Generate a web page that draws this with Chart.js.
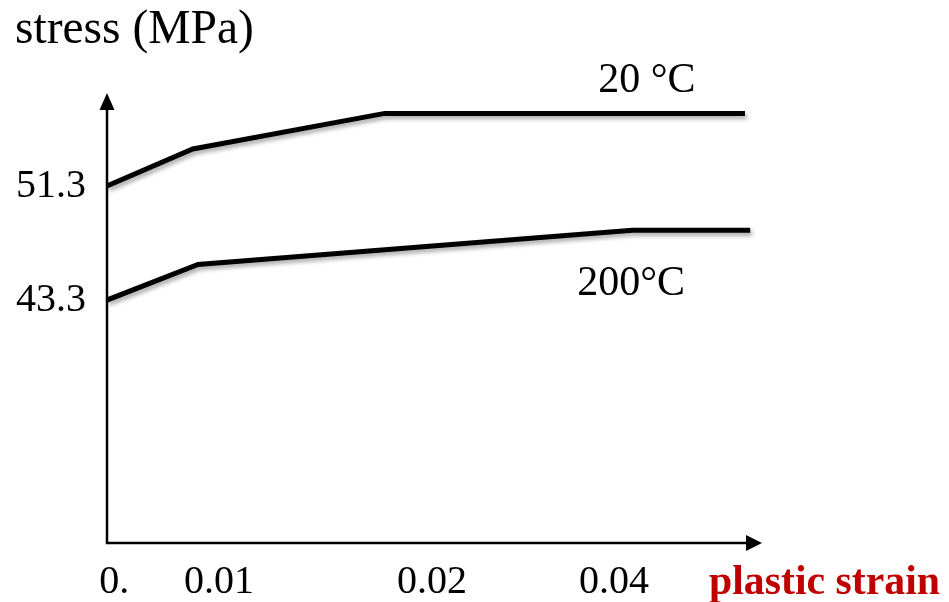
<!DOCTYPE html>
<html>
<head>
<meta charset="utf-8">
<script src="https://cdn.jsdelivr.net/npm/chart.js@4"></script>
<style>
    body { margin: 0; background: #fff; }
    canvas { display: block; }
</style>
</head>
<body>
<canvas id="chart-strain" width="949" height="602"></canvas>
<script>
// schematic strain axis: x values are positions along the (non-linear) axis, 0..100
let strainPos20 = [0, 13.1, 42.4, 97.4]
let stress20 = [51.3, 53.9, 56.4, 56.4]

let strainPos200 = [0, 13.9, 80.2, 98.2]
let stress200 = [43.3, 45.8, 48.2, 48.2]

let xTickPos = [1.1, 17.1, 49.6, 77.4]
let xTickLabels = ['0.', '0.01', '0.02', '0.04']

let yTickValues = [43.3, 51.3]
let yTickLabels = ['43.3', '51.3']

let seriesNames = ['20 °C', '200°C']

const SERIF = '"Liberation Serif", "Times New Roman", serif'

/****************************************************************************************************/

const axisArrows = {
    id: 'axisArrows',
    beforeDatasetsDraw(chart) {
        let ctx = chart.ctx
        let area = chart.chartArea
        ctx.save()
        ctx.strokeStyle = '#000'
        ctx.fillStyle = '#000'
        ctx.lineWidth = 2.5
        ctx.beginPath()
        ctx.moveTo(area.left, area.top + 10)
        ctx.lineTo(area.left, area.bottom)
        ctx.lineTo(area.right - 10, area.bottom)
        ctx.stroke()
        // arrow heads
        ctx.beginPath()
        ctx.moveTo(area.left, area.top - 2)
        ctx.lineTo(area.left - 7.5, area.top + 15)
        ctx.lineTo(area.left + 7.5, area.top + 15)
        ctx.closePath()
        ctx.fill()
        ctx.beginPath()
        ctx.moveTo(area.right, area.bottom)
        ctx.lineTo(area.right - 16, area.bottom - 8)
        ctx.lineTo(area.right - 16, area.bottom + 8)
        ctx.closePath()
        ctx.fill()
        ctx.restore()

        // soft shadow under the curves
        ctx.save()
        ctx.shadowColor = 'rgba(0, 0, 0, 0.35)'
        ctx.shadowBlur = 4
        ctx.shadowOffsetX = 2
        ctx.shadowOffsetY = 3
    },
    afterDatasetsDraw(chart) {
        chart.ctx.restore()
    },
    afterDraw(chart) {
        let ctx = chart.ctx
        let x = chart.scales.x
        let y = chart.scales.y
        ctx.save()
        ctx.fillStyle = '#000'
        ctx.textBaseline = 'alphabetic'

        ctx.font = '47.5px ' + SERIF
        ctx.textAlign = 'left'
        ctx.fillText('stress (MPa)', 15, 43)

        ctx.font = '42px ' + SERIF
        ctx.textAlign = 'center'
        let n = strainPos20.length - 1
        ctx.fillText(seriesNames[0], x.getPixelForValue(strainPos20[n]) - 98, y.getPixelForValue(stress20[n]) - 21)
        n = strainPos200.length - 1
        ctx.fillText(seriesNames[1], x.getPixelForValue(strainPos200[n]) - 119, y.getPixelForValue(stress200[n]) + 65)

        ctx.font = 'bold 41.8px ' + SERIF
        ctx.fillStyle = '#c00000'
        ctx.textAlign = 'left'
        ctx.fillText('plastic strain', 709, 594)
        ctx.restore()
    }
}

let canvas = document.getElementById('chart-strain')

new Chart(canvas, {
    type: 'line',
    data: {
        datasets: [
            {
                label: seriesNames[0],
                data: strainPos20.map((v, i) => ({ x: v, y: stress20[i] })),
                borderColor: '#000',
                borderWidth: 5,
                pointRadius: 0,
                fill: false,
                tension: 0
            },
            {
                label: seriesNames[1],
                data: strainPos200.map((v, i) => ({ x: v, y: stress200[i] })),
                borderColor: '#000',
                borderWidth: 5,
                pointRadius: 0,
                fill: false,
                tension: 0
            }
        ]
    },
    options: {
        responsive: false,
        animation: false,
        layout: {
            padding: { top: 95, right: 187, left: 0, bottom: 0 }
        },
        scales: {
            x: {
                type: 'linear',
                min: 0,
                max: 100,
                afterBuildTicks: (scale) => { scale.ticks = xTickPos.map(v => ({ value: v })) },
                afterFit: (scale) => { scale.height = 59 },
                ticks: {
                    autoSkip: false,
                    maxRotation: 0,
                    padding: 15,
                    color: '#000',
                    font: { family: SERIF, size: 40 },
                    callback: (value, index) => xTickLabels[index]
                },
                border: { display: false },
                grid: { display: false, drawTicks: false }
            },
            y: {
                min: 26.25,
                max: 57.69,
                afterBuildTicks: (scale) => { scale.ticks = yTickValues.map(v => ({ value: v })) },
                afterFit: (scale) => { scale.width = 107 },
                ticks: {
                    autoSkip: false,
                    padding: 21,
                    color: '#000',
                    font: { family: SERIF, size: 40 },
                    callback: (value, index) => yTickLabels[index]
                },
                border: { display: false },
                grid: { display: false, drawTicks: false }
            }
        },
        plugins: {
            legend: { display: false },
            tooltip: { enabled: false }
        }
    },
    plugins: [axisArrows]
})
</script>
</body>
</html>
